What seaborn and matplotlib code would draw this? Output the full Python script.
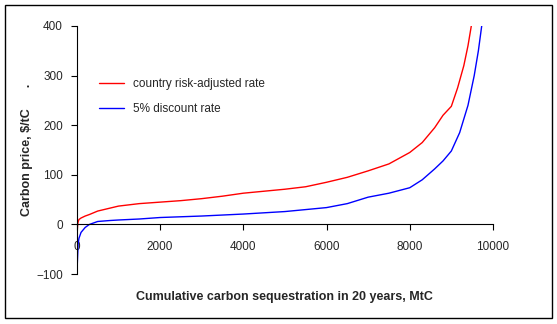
import matplotlib
matplotlib.use("Agg")
import matplotlib.pyplot as plt
import seaborn as sns
import pandas as pd
from matplotlib.patches import Rectangle

# Data
cum_red = [0, 10, 20, 30, 50, 100, 200, 300, 500, 800, 1000, 1500, 2000, 2500, 3000,
           3500, 4000, 4500, 5000, 5500, 6000, 6500, 7000, 7500, 8000, 8300, 8600,
           8800, 9000, 9150, 9300, 9400, 9480]
price_red = [-25, -10, 0, 5, 10, 13, 17, 20, 27, 33, 37, 42, 45, 48, 52,
             57, 63, 67, 71, 76, 85, 95, 108, 122, 145, 165, 195,
             220, 238, 275, 320, 360, 400]

cum_blue = [0, 20, 30, 50, 100, 200, 300, 500, 800, 1000, 1500, 2000, 3000, 4000,
            5000, 6000, 6500, 7000, 7500, 8000, 8300, 8600, 8800, 9000, 9200, 9400,
            9550, 9650, 9730]
price_blue = [-100, -60, -40, -28, -16, -6, 0, 6, 8, 9, 11, 14, 17, 21,
              26, 34, 42, 55, 63, 74, 90, 112, 128, 148, 185, 240,
              300, 350, 400]

series_names = ["country risk-adjusted rate", "5% discount rate"]
x_ticks = [0, 2000, 4000, 6000, 8000, 10000]
y_ticks = [-100, 0, 100, 200, 300, 400]

df = pd.concat([
    pd.DataFrame({"x": cum_red, "y": price_red, "series": series_names[0]}),
    pd.DataFrame({"x": cum_blue, "y": price_blue, "series": series_names[1]}),
])

sns.set_style("white")
plt.rcParams["font.family"] = ["Liberation Sans", "DejaVu Sans"]

fig = plt.figure(figsize=(5.57, 3.24), dpi=100)
ax = fig.add_axes([0.138, 0.154, 0.747, 0.766])

sns.lineplot(data=df, x="x", y="y", hue="series", palette=["#ff0000", "#0000ff"],
             estimator=None, sort=False, linewidth=1.0, ax=ax)

ax.set_xlim(0, 10000)
ax.set_ylim(-100, 400)
ax.set_xticks(x_ticks)
ax.set_yticks(y_ticks)
ax.tick_params(axis="both", labelsize=8.5, length=4, width=0.8, direction="out",
               color="black", bottom=True, left=True, pad=6)
for s in ["top", "right"]:
    ax.spines[s].set_visible(False)
for s in ["left", "bottom"]:
    ax.spines[s].set_color("black")
    ax.spines[s].set_linewidth(0.8)
ax.spines["bottom"].set_position(("data", 0))
ax.xaxis.set_tick_params(pad=8)

ax.set_xlabel("Cumulative carbon sequestration in 20 years, MtC", fontsize=9,
              fontweight="bold", labelpad=0)
ax.xaxis.set_label_coords(0.5, -0.068)
ax.set_ylabel("Carbon price, $/tC      .", fontsize=9, fontweight="bold")
ax.yaxis.set_label_coords(-0.106, 0.5)

ax.legend(title=None, frameon=False, fontsize=8.5, loc="upper left",
          bbox_to_anchor=(0.027, 0.832), handlelength=2.1, labelspacing=1.1)

fig.patches.append(Rectangle((5 / 557, 6 / 324), 547 / 557, 313 / 324,
                             transform=fig.transFigure, fill=False,
                             edgecolor="black", linewidth=1.0))

fig.savefig("out.png", dpi=100)
